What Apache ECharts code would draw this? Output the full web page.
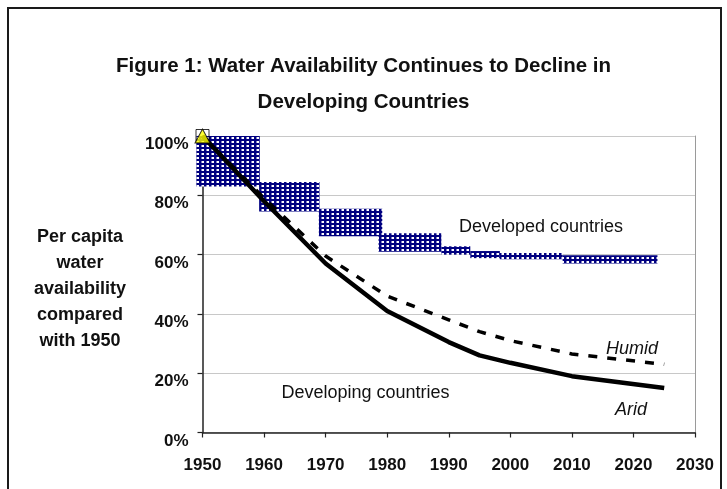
<!DOCTYPE html>
<html>
<head>
<meta charset="utf-8">
<script src="https://cdn.jsdelivr.net/npm/echarts@6/dist/echarts.min.js"></script>
<style>
  html, body { margin: 0; padding: 0; background: #ffffff; }
  #chart { width: 727px; height: 489px; }
</style>
</head>
<body>
<div id="chart"></div>
<script>
// Per capita water availability, % of the 1950 level
const years = [1950, 1960, 1970, 1980, 1990, 1995, 2000, 2010, 2025];
const arid  = [100, 78, 57, 41, 30.5, 26, 23.5, 19, 15];
const humid = [100, 79, 59.5, 46, 38, 34, 31, 26.5, 23];

// Developed-country range, drawn as stepped blocks (start year, end year, low %, high %)
const bandStart = [1949, 1959.2, 1968.9, 1978.6, 1988.8, 1993.5, 1998.3, 2008.5];
const bandEnd   = [1959.3, 1969, 1979.2, 1988.8, 1993.5, 1998.3, 2008.5, 2023.9];
const bandLow   = [83, 74.5, 66.2, 61, 60, 58.8, 58.4, 57];
const bandHigh  = [100, 84.5, 75.5, 67.2, 62.8, 61.2, 60.5, 59.8];

// Axis ticks
const xMin = 1950, xMax = 2030, xStep = 10;
const yMin = 0, yMax = 100, yStep = 20;

const FONT = '"Liberation Sans", Arial, sans-serif';

// Small repeating tile for the navy dotted fill
function makeTile() {
  const c = document.createElement('canvas');
  c.width = 5; c.height = 4;
  const g = c.getContext('2d');
  g.fillStyle = '#000080';
  g.fillRect(0, 0, 5, 4);
  g.fillStyle = '#7f7fc4';
  g.fillRect(1, 1, 3, 2);
  g.fillStyle = '#ffffff';
  g.fillRect(2, 1, 2, 2);
  return c;
}
const tile = makeTile();

const chart = echarts.init(document.getElementById('chart'), null, { renderer: 'canvas' });

const option = {
  animation: false,
  backgroundColor: '#ffffff',
  title: {
    text: 'Figure 1: Water Availability Continues to Decline in\nDeveloping Countries',
    left: 'center',
    top: 43,
    textStyle: {
      fontFamily: FONT,
      fontSize: 20.5,
      fontWeight: 'bold',
      color: '#111111',
      lineHeight: 36
    }
  },
  grid: { left: 202.5, right: 32, top: 136, bottom: 56.5, containLabel: false },
  xAxis: {
    type: 'value',
    min: xMin, max: xMax, interval: xStep,
    axisLine: { show: true, lineStyle: { color: '#222222', width: 1.5 } },
    axisTick: { show: true, length: 5, lineStyle: { color: '#222222', width: 1.2 } },
    splitLine: { show: false },
    axisLabel: {
      margin: 24,
      formatter: function (v) { return String(v); },
      fontFamily: FONT, fontSize: 17, fontWeight: 'bold', color: '#111111'
    }
  },
  yAxis: [{
    type: 'value',
    min: yMin, max: yMax, interval: yStep,
    axisLine: { show: true, lineStyle: { color: '#222222', width: 1.5 } },
    axisTick: { show: true, length: 5, lineStyle: { color: '#222222', width: 1.2 } },
    splitLine: { show: true, lineStyle: { color: '#c8c8c8', width: 1 } },
    axisLabel: {
      margin: 14,
      verticalAlign: 'top',
      formatter: '{value}%',
      fontFamily: FONT, fontSize: 17, fontWeight: 'bold', color: '#111111'
    }
  }, {
    type: 'value',
    position: 'right',
    min: yMin, max: yMax, interval: yStep,
    axisLine: { show: true, lineStyle: { color: '#9a9a9a', width: 1 } },
    axisTick: { show: false },
    axisLabel: { show: false },
    splitLine: { show: false }
  }],
  series: [
    {
      name: 'Developed countries',
      type: 'custom',
      clip: false,
      silent: true,
      z: 1,
      encode: { x: [0, 1], y: [2, 3] },
      data: bandStart.map((s, i) => [s, bandEnd[i], bandLow[i], bandHigh[i]]),
      renderItem: function (params, api) {
        const p0 = api.coord([api.value(0), api.value(3)]);
        const p1 = api.coord([api.value(1), api.value(2)]);
        return {
          type: 'rect',
          shape: { x: p0[0], y: p0[1], width: p1[0] - p0[0], height: p1[1] - p0[1] },
          style: { fill: { image: tile, repeat: 'repeat' } }
        };
      }
    },
    {
      name: 'Humid',
      type: 'line',
      z: 3,
      symbol: 'none',
      data: years.map((y, i) => [y, humid[i]]),
      lineStyle: { color: '#000000', width: 3.5, type: [9, 10], cap: 'butt' }
    },
    {
      name: 'Arid',
      type: 'line',
      z: 4,
      symbol: 'none',
      data: years.map((y, i) => [y, arid[i]]),
      lineStyle: { color: '#000000', width: 4.5 }
    },
    {
      name: 'base box',
      type: 'scatter',
      z: 5,
      symbol: 'rect',
      symbolSize: 13,
      data: [[years[0], arid[0]]],
      itemStyle: { color: 'rgba(0,0,0,0)', borderColor: '#000000', borderWidth: 1 }
    },
    {
      name: 'base year',
      type: 'scatter',
      z: 6,
      symbol: 'triangle',
      symbolSize: [15, 14],
      data: [[years[0], arid[0]]],
      itemStyle: { color: '#ffff00', borderColor: '#000000', borderWidth: 1 }
    }
  ],
  graphic: [
    {
      type: 'rect',
      silent: true,
      shape: { x: 8, y: 8, width: 713, height: 520 },
      style: { fill: null, stroke: '#1a1a1a', lineWidth: 2 }
    },
    {
      type: 'text',
      x: 80, y: 224,
      style: {
        text: 'Per capita\nwater\navailability\ncompared\nwith 1950',
        align: 'center', verticalAlign: 'top',
        lineHeight: 26,
        font: 'bold 18px ' + FONT,
        fill: '#111111'
      }
    },
    {
      type: 'text',
      x: 459, y: 227.5,
      style: { text: 'Developed countries', verticalAlign: 'middle', font: '18px ' + FONT, fill: '#111111' }
    },
    {
      type: 'text',
      x: 281.5, y: 393.5,
      style: { text: 'Developing countries', verticalAlign: 'middle', font: '18px ' + FONT, fill: '#111111' }
    },
    {
      type: 'text',
      x: 606, y: 349,
      style: { text: 'Humid', verticalAlign: 'middle', font: 'italic 18px ' + FONT, fill: '#111111' }
    },
    {
      type: 'text',
      x: 615, y: 410,
      style: { text: 'Arid', verticalAlign: 'middle', font: 'italic 18px ' + FONT, fill: '#111111' }
    }
  ]
};

chart.setOption(option);
</script>
</body>
</html>
